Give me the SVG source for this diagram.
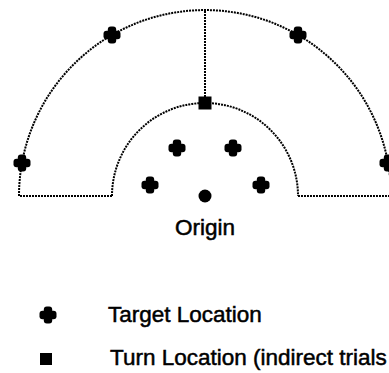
<svg xmlns="http://www.w3.org/2000/svg" xmlns:xlink="http://www.w3.org/1999/xlink" width="389" height="373" viewBox="0 0 389 373">
<style>
.dot{fill:none;stroke:#000;stroke-width:2;stroke-dasharray:2 1}
.lbl{font-family:"Liberation Sans",Arial,Helvetica,sans-serif;font-size:22.5px;fill:#000;stroke:#000;stroke-width:0.5}
</style>
<defs>
<g id="cross">
<rect x="-8.5" y="-4.2" width="17" height="8.4" rx="3"/>
<rect x="-4.2" y="-8.5" width="8.4" height="17" rx="3"/>
</g>
</defs>
<rect width="389" height="373" fill="#fff"/>
<g id="connectors">
<path class="dot" d="M 112 196 H 19 A 186 186 0 0 1 391 196 H 298"/>
<path class="dot" d="M 112 196 A 93 93 0 0 1 298 196"/>
<path class="dot" d="M 205 11 V 97"/>
</g>
<g id="outer-targets">
<use xlink:href="#cross" x="112" y="35"/>
<use xlink:href="#cross" x="298" y="35"/>
<use xlink:href="#cross" x="22" y="163"/>
<use xlink:href="#cross" x="388" y="163"/>
</g>
<g id="inner-targets">
<use xlink:href="#cross" x="177" y="148"/>
<use xlink:href="#cross" x="233" y="148"/>
<use xlink:href="#cross" x="150" y="185"/>
<use xlink:href="#cross" x="261" y="185"/>
</g>
<g id="turn">
<rect x="198.5" y="96.5" width="13" height="13"/>
</g>
<g id="origin">
<circle cx="205" cy="196" r="6.5"/>
<text class="lbl" x="205" y="235" text-anchor="middle">Origin</text>
</g>
<g id="legend-target">
<use xlink:href="#cross" x="48" y="315"/>
<text class="lbl" x="108" y="322">Target Location</text>
</g>
<g id="legend-turn">
<rect x="40" y="353" width="12" height="12"/>
<text class="lbl" x="110" y="365">Turn Location (indirect trials</text>
</g>
</svg>
